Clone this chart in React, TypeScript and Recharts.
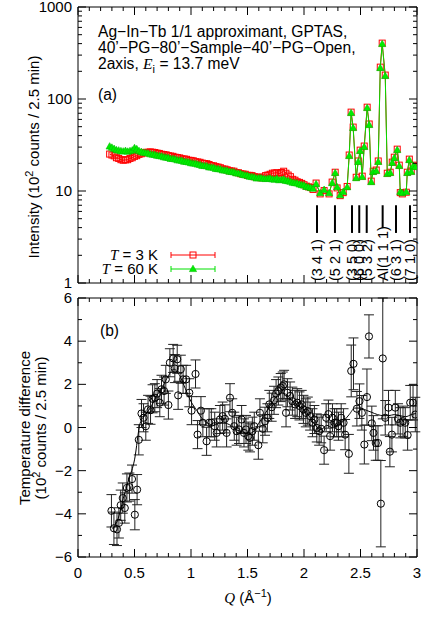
import React from 'react';
import {
  ComposedChart, Scatter, XAxis, YAxis, ErrorBar, ReferenceLine, Customized,
} from 'recharts';

const FONT = '"Liberation Sans", Arial, Helvetica, sans-serif';
const SERIF = '"Liberation Serif", "Times New Roman", serif';
const FS = 15;

// (a) intensity scan, dense part (Q in 1/Å, intensity in 10^2 counts / 2.5 min)
const qScan = [
  0.28, 0.30, 0.32, 0.34, 0.36, 0.38, 0.40, 0.42, 0.44, 0.46,
  0.48, 0.50, 0.52, 0.54, 0.56, 0.58, 0.60, 0.62, 0.64, 0.66,
  0.68, 0.70, 0.72, 0.74, 0.76, 0.78, 0.80, 0.82, 0.84, 0.86,
  0.88, 0.90, 0.92, 0.94, 0.96, 0.98, 1.00, 1.02, 1.04, 1.06,
  1.08, 1.10, 1.12, 1.14, 1.16, 1.18, 1.20, 1.22, 1.24, 1.26,
  1.28, 1.30, 1.32, 1.34, 1.36, 1.38, 1.40, 1.42, 1.44, 1.46,
  1.48, 1.50, 1.52, 1.54, 1.56, 1.58, 1.60, 1.62, 1.64, 1.66,
  1.68, 1.70, 1.72, 1.74, 1.76, 1.78, 1.80, 1.82, 1.84, 1.86,
  1.88, 1.90, 1.92, 1.94, 1.96, 1.98, 2.00, 2.02, 2.04, 2.06,
  2.08,
];
const i3KScan = [
  25.2, 24.6, 24.1, 23.0, 22.6, 21.9, 21.6, 21.8, 21.9, 22.6,
  23.0, 23.8, 24.2, 25.0, 25.4, 25.9, 26.3, 26.4, 26.6, 26.4,
  26.2, 25.8, 25.6, 25.1, 24.9, 24.7, 24.2, 24.0, 23.8, 23.3,
  23.1, 22.9, 22.4, 22.3, 22.1, 21.6, 21.5, 21.3, 20.8, 20.7,
  20.5, 20.1, 19.9, 19.8, 19.4, 18.9, 18.8, 18.4, 18.2, 17.9,
  17.4, 17.3, 17.0, 16.6, 16.5, 16.4, 15.9, 15.8, 15.4, 15.3,
  15.2, 14.8, 14.8, 14.7, 14.3, 14.2, 14.1, 13.9, 14.2, 14.7,
  14.9, 15.2, 15.6, 15.7, 15.8, 15.4, 15.9, 16.4, 15.6, 14.9,
  14.3, 13.4, 13.1, 12.6, 12.4, 12.1, 11.7, 11.3, 11.1, 10.9,
  10.4,
];
const i60KScan = [
  30.5, 29.6, 28.7, 27.8, 27.6, 27.1, 26.9, 27.3, 26.8, 27.2,
  27.6, 29.3, 28.5, 27.2, 26.6, 26.1, 25.9, 25.6, 25.1, 24.9,
  24.7, 24.2, 24.0, 23.8, 23.3, 23.1, 22.9, 22.4, 22.3, 22.1,
  21.6, 21.5, 21.3, 20.8, 20.7, 20.5, 20.1, 19.9, 19.8, 19.4,
  19.2, 18.8, 18.7, 18.6, 18.1, 18.0, 17.9, 17.4, 17.3, 17.2,
  16.8, 16.7, 16.6, 16.2, 16.1, 16.0, 15.6, 15.5, 15.4, 15.0,
  14.8, 14.7, 14.3, 14.2, 14.1, 13.7, 13.8, 13.8, 13.6, 13.5,
  13.6, 13.7, 13.4, 13.3, 13.6, 13.1, 13.2, 13.4, 12.9, 12.8,
  12.6, 12.3, 12.2, 12.1, 11.8, 11.6, 11.5, 11.1, 11.0, 10.8,
  10.6,
];

// (a) Bragg-peak region
const qPeak = [
  2.107, 2.143, 2.178, 2.222, 2.249, 2.276, 2.293, 2.320, 2.347, 2.382,
  2.400, 2.417, 2.435, 2.462, 2.480, 2.497, 2.515, 2.533, 2.559, 2.577,
  2.595, 2.612, 2.639, 2.657, 2.675, 2.692, 2.719, 2.737, 2.763, 2.781,
  2.799, 2.825, 2.843, 2.852, 2.870, 2.905, 2.914, 2.932, 2.949, 2.967,
  2.985,
];
const i3KPeak = [
  12.2, 9.3, 10.1, 9.3, 12.5, 16.0, 10.8, 8.9, 9.6, 11.2,
  24.6, 72.0, 49.5, 14.1, 21.2, 27.8, 14.5, 30.8, 81.5, 53.5,
  12.8, 16.4, 16.9, 21.2, 222, 405, 182, 15.6, 16.0, 20.6,
  23.3, 28.5, 19.1, 9.6, 9.3, 9.7, 16.0, 22.2, 16.5, 19.1,
  18.6,
];
const i60KPeak = [
  11.9, 9.5, 10.3, 9.5, 12.2, 15.7, 11.0, 9.0, 9.8, 11.0,
  24.0, 70.4, 48.4, 13.8, 20.7, 27.2, 14.2, 30.1, 79.8, 52.2,
  12.5, 16.1, 16.5, 20.7, 217, 396, 178, 15.3, 15.7, 20.2,
  22.8, 27.9, 18.7, 9.8, 9.5, 9.8, 15.7, 21.7, 16.1, 18.7,
  18.2,
];

// reflection markers
const hklQ = [2.115, 2.274, 2.425, 2.489, 2.555, 2.696, 2.814, 2.938];
const hklText = ['(3 4 1)', '(5 2 1)', '(3 5 0)', '(6 0 0)', '(5 3 2)', 'Al(1 1 1)', '(6 3 1)', '(7 1 0)'];
const MARK_TOP = 7.0;
const MARK_BOTTOM = 3.5;
const MARK_BOTTOM_AL = 3.95;

// (b) temperature difference
const qDiff = [
  0.296, 0.318, 0.345, 0.362, 0.378, 0.396, 0.414, 0.433, 0.455, 0.478,
  0.503, 0.523, 0.538, 0.562, 0.580, 0.600, 0.620, 0.642, 0.660, 0.680,
  0.700, 0.724, 0.739, 0.762, 0.777, 0.800, 0.813, 0.842, 0.857, 0.878,
  0.886, 0.910, 0.930, 0.957, 0.985, 1.005, 1.040, 1.058, 1.088, 1.105,
  1.138, 1.160, 1.180, 1.210, 1.227, 1.256, 1.280, 1.300, 1.315, 1.345,
  1.365, 1.383, 1.404, 1.425, 1.448, 1.469, 1.487, 1.507, 1.522, 1.543,
  1.560, 1.596, 1.610, 1.635, 1.655, 1.676, 1.693, 1.714, 1.735, 1.753,
  1.773, 1.794, 1.812, 1.824, 1.841, 1.853, 1.877, 1.897, 1.921, 1.940,
  1.960, 1.980, 1.995, 2.016, 2.034, 2.054, 2.075, 2.092, 2.113, 2.134,
  2.152, 2.178, 2.196, 2.216, 2.231, 2.252, 2.270, 2.290, 2.305, 2.329,
  2.350, 2.364, 2.397, 2.418, 2.438, 2.468, 2.491, 2.512, 2.534, 2.557,
  2.575, 2.600, 2.615, 2.635, 2.655, 2.680, 2.697, 2.719, 2.748, 2.760,
  2.778, 2.808, 2.832, 2.852, 2.876, 2.896, 2.917, 2.940, 2.965, 2.985,
];
const dDiff = [
  -3.86, -4.67, -4.72, -4.42, -3.60, -3.27, -3.73, -2.80, -2.76, -2.39,
  -4.04, -2.88, -0.57, 0.65, 0.45, 0.06, 0.84, 0.80, 1.33, 1.38,
  1.57, 1.15, 1.77, 1.69, 2.23, 1.04, 3.00, 3.20, 2.73, 3.16,
  1.49, 2.70, 2.23, 2.23, 1.61, 0.78, 2.48, -0.33, 0.78, 0.22,
  -0.64, 0.22, 0.22, 0.06, -0.25, 0.37, 0.53, 0.40, -0.25, 1.38,
  0.68, 0.06, -0.17, -0.09, 0.37, -0.25, -0.09, -0.40, -0.48, -0.17,
  0.06, -0.82, 0.68, -0.06, 0.29, 0.45, 1.07, 0.94, 1.26, 1.57,
  1.69, 1.85, 1.92, 2.00, 0.68, 1.61, 1.46, 1.22, 1.07, 1.15,
  1.00, 1.07, 0.84, 0.68, 0.76, 0.53, 0.22, 0.37, -0.02, -0.17,
  -0.06, -1.05, 0.45, 0.62, -0.40, 0.45, 0.22, 0.22, 0.06, 0.45,
  0.22, -0.33, -1.22, 2.62, 2.95, 0.87, 1.22, 0.68, -0.79, 1.41,
  4.22, 0.19, -0.25, -0.72, -0.72, -3.53, 3.20, 0.45, 0.92, -1.12,
  -0.33, 0.92, 0.40, 0.22, 0.29, 0.22, -0.35, 1.15, 1.15, 0.60,
];
const eDiff = [
  0.75, 0.75, 0.75, 0.70, 0.70, 0.70, 0.70, 0.65, 0.65, 0.65,
  0.70, 0.70, 0.70, 0.65, 0.65, 0.65, 0.65, 0.65, 0.65, 0.65,
  0.65, 0.65, 0.65, 0.65, 0.65, 0.65, 0.65, 0.65, 0.65, 0.65,
  0.65, 0.65, 0.65, 0.65, 0.65, 0.65, 0.65, 0.65, 0.65, 0.65,
  0.65, 0.65, 0.65, 0.65, 0.65, 0.65, 0.65, 0.65, 0.65, 0.65,
  0.65, 0.65, 0.65, 0.65, 0.65, 0.65, 0.65, 0.65, 0.65, 0.65,
  0.65, 0.65, 0.65, 0.65, 0.65, 0.65, 0.65, 0.65, 0.65, 0.65,
  0.65, 0.65, 0.65, 0.65, 0.65, 0.65, 0.65, 0.65, 0.65, 0.65,
  0.65, 0.65, 0.65, 0.65, 0.65, 0.65, 0.65, 0.65, 0.65, 0.65,
  0.65, 0.65, 0.65, 0.65, 0.65, 0.65, 0.65, 0.65, 0.65, 0.65,
  0.65, 0.70, 0.90, 1.20, 1.20, 0.80, 0.80, 0.80, 0.90, 1.30,
  1.00, 0.80, 0.80, 0.80, 0.80, 2.00, 2.80, 0.80, 0.80, 0.70,
  0.80, 0.80, 0.70, 0.70, 0.70, 0.70, 0.70, 0.80, 0.80, 0.80,
];
const qSmooth = [
  0.30, 0.35, 0.40, 0.45, 0.50, 0.55, 0.60, 0.65, 0.70, 0.75,
  0.80, 0.85, 0.90, 0.95, 1.00, 1.05, 1.10, 1.15, 1.20, 1.25,
  1.30, 1.35, 1.40, 1.45, 1.50, 1.55, 1.60, 1.65, 1.70, 1.75,
  1.80, 1.85, 1.90, 1.95, 2.00, 2.05, 2.10, 2.15, 2.20, 2.25,
  2.30, 2.35, 2.40, 2.45, 2.50, 2.55, 2.60, 2.65, 2.70, 2.75,
  2.80, 2.85, 2.90, 2.95, 2.99,
];
const dSmooth = [
  -4.7, -4.3, -3.3, -2.4, -1.5, 0.2, 0.6, 1.0, 1.5, 1.9,
  2.4, 2.7, 2.4, 1.8, 1.2, 0.8, 0.4, 0.2, 0.1, 0.2,
  0.2, 0.1, -0.1, -0.2, -0.3, -0.2, 0.2, 0.6, 1.0, 1.4,
  1.6, 1.5, 1.2, 1.0, 0.8, 0.5, 0.1, -0.1, 0.1, 0.0,
  0.1, 0.3, 0.6, 0.9, 0.9, 0.8, 0.7, 0.6, 0.55, 0.55,
  0.6, 0.55, 0.5, 0.6, 0.65,
];

const xTicks = [
  0, 0.1, 0.2, 0.3, 0.4, 0.5, 0.6, 0.7, 0.8, 0.9, 1, 1.1, 1.2, 1.3, 1.4, 1.5,
  1.6, 1.7, 1.8, 1.9, 2, 2.1, 2.2, 2.3, 2.4, 2.5, 2.6, 2.7, 2.8, 2.9, 3,
];
const logTicks = [
  1, 2, 3, 4, 5, 6, 7, 8, 9, 10, 20, 30, 40, 50, 60, 70, 80, 90,
  100, 200, 300, 400, 500, 600, 700, 800, 900, 1000,
];
const logMajor = [1, 10, 100, 1000];
const diffTicks = [-6, -5, -4, -3, -2, -1, 0, 1, 2, 3, 4, 5, 6];

const data3K = [...qScan, ...qPeak].map((q, i) => ({ q, v: [...i3KScan, ...i3KPeak][i] }));
const data60K = [...qScan, ...qPeak].map((q, i) => ({ q, v: [...i60KScan, ...i60KPeak][i] }));
const diffData = qDiff.map((q, i) => ({ q, v: dDiff[i], err: eDiff[i] }));
const smoothData = qSmooth.map((q, i) => ({ q, v: dSmooth[i] }));

const isHalf = (v: number) => Math.abs(v * 2 - Math.round(v * 2)) < 1e-6;
const isDecade = (v: number) => logMajor.includes(v);
const isEven = (v: number) => Math.round(v) % 2 === 0;
const numLabel = (v: number) => String(v).replace('-', '\u2212');

// inward gnuplot-style ticks; labels only on the left and bottom
function tickRenderer(side: string, isMajor: (v: number) => boolean, fmt?: (v: number) => string) {
  return (props: any) => {
    const { x, y, payload } = props;
    const v = payload.value;
    const major = isMajor(v);
    const len = major ? 8 : 4;
    const dx = side === 'left' ? len : side === 'right' ? -len : 0;
    const dy = side === 'top' ? len : side === 'bottom' ? -len : 0;
    let label = null;
    if (fmt && major) {
      label = side === 'left'
        ? <text x={x - 6} y={y + 5} textAnchor="end" fontSize={FS} fontFamily={FONT} fill="#000">{fmt(v)}</text>
        : <text x={x} y={y + 21} textAnchor="middle" fontSize={FS} fontFamily={FONT} fill="#000">{fmt(v)}</text>;
    }
    return (
      <g>
        <line x1={x} y1={y} x2={x + dx} y2={y + dy} stroke="#000" strokeWidth={1} />
        {label}
      </g>
    );
  };
}

const axisLine = { stroke: '#000', strokeWidth: 1 };

const Square = (p: any) => (
  <rect x={p.cx - 3} y={p.cy - 3} width={6} height={6} fill="none" stroke="#ff0000" strokeWidth={1} />
);
const Triangle = (p: any) => (
  <path d={`M${p.cx},${p.cy - 3.8}L${p.cx + 3.6},${p.cy + 2.6}L${p.cx - 3.6},${p.cy + 2.6}Z`} fill="#00ee00" stroke="#00c000" strokeWidth={0.6} />
);
const Circle = (p: any) => (
  <circle cx={p.cx} cy={p.cy} r={3.6} fill="none" stroke="#000" strokeWidth={1} />
);
const NoDot = () => <g />;

const TopText = () => (
  <g fontFamily={FONT} fontSize={FS} fill="#000">
    <g fontSize={15.6}>
      <text x={98} y={37}>Ag−In−Tb 1/1 approximant, GPTAS,</text>
      <text x={98} y={53}>40’−PG−80’−Sample−40’−PG−Open,</text>
      <text x={98} y={69}>
        2axis, <tspan fontFamily={SERIF} fontStyle="italic">E</tspan>
        <tspan dy={4} fontSize={11}>i</tspan>
        <tspan dy={-4}> = 13.7 meV</tspan>
      </text>
      <text x={98} y={100}>(a)</text>
    </g>
    <text transform="translate(39,157) rotate(-90)" textAnchor="middle">
      Intensity (10<tspan dy={-6} fontSize={11}>2</tspan><tspan dy={6}> counts / 2.5 min)</tspan>
    </text>
    <text x={158} y={260} textAnchor="end">
      <tspan fontFamily={SERIF} fontStyle="italic">T</tspan> = 3 K
    </text>
    <line x1={171} y1={255} x2={215} y2={255} stroke="#ff0000" />
    <line x1={171} y1={252} x2={171} y2={258} stroke="#ff0000" />
    <line x1={215} y1={252} x2={215} y2={258} stroke="#ff0000" />
    <Square cx={193} cy={255} />
    <text x={158} y={274} textAnchor="end">
      <tspan fontFamily={SERIF} fontStyle="italic">T</tspan> = 60 K
    </text>
    <line x1={171} y1={269} x2={215} y2={269} stroke="#00e000" />
    <line x1={171} y1={266} x2={171} y2={272} stroke="#00e000" />
    <line x1={215} y1={266} x2={215} y2={272} stroke="#00e000" />
    <Triangle cx={193} cy={269} />
  </g>
);

const BottomText = () => (
  <g fontFamily={FONT} fontSize={FS} fill="#000">
    <text x={100} y={46} fontSize={15.6}>(b)</text>
    <text transform="translate(30,138) rotate(-90)" textAnchor="middle">Temperature difference</text>
    <text transform="translate(46,138) rotate(-90)" textAnchor="middle">
      (10<tspan dy={-6} fontSize={11}>2</tspan><tspan dy={6}> counts / 2.5 min)</tspan>
    </text>
    <text x={248} y={313} textAnchor="middle">
      <tspan fontFamily={SERIF} fontStyle="italic">Q</tspan> (Å<tspan dy={-6} fontSize={11}>−1</tspan><tspan dy={6}>)</tspan>
    </text>
  </g>
);

const hklLabel = (text: string) => (p: any) => {
  const vb = p.viewBox || {};
  const x = vb.x ?? p.x ?? 0;
  return (
    <text transform={`translate(${x + 5},281) rotate(-90)`} textAnchor="start" fontSize={14.5} fontFamily={FONT} fill="#000">
      {text}
    </text>
  );
};

export default function App() {
  return (
    <div style={{ position: 'absolute', left: 0, top: 0, width: 436, height: 623, background: '#fff', fontFamily: FONT }}>
      <ComposedChart width={436} height={290} margin={{ top: 0, right: 0, bottom: 0, left: 0 }}>
        <XAxis xAxisId="b" dataKey="q" type="number" domain={[0, 3]} ticks={xTicks} interval={0} height={7}
          allowDataOverflow tickLine={false} tickSize={0} tickMargin={0} axisLine={axisLine}
          tick={tickRenderer('bottom', isHalf)} />
        <XAxis xAxisId="t" orientation="top" dataKey="q" type="number" domain={[0, 3]} ticks={xTicks} interval={0} height={7}
          allowDataOverflow tickLine={false} tickSize={0} tickMargin={0} axisLine={axisLine}
          tick={tickRenderer('top', isHalf)} />
        <YAxis yAxisId="l" dataKey="v" scale="log" type="number" domain={[1, 1000]} ticks={logTicks} interval={0} width={78}
          allowDataOverflow tickLine={false} tickSize={0} tickMargin={0} axisLine={axisLine}
          tick={tickRenderer('left', isDecade, numLabel)} />
        <YAxis yAxisId="r" orientation="right" dataKey="v" scale="log" type="number" domain={[1, 1000]} ticks={logTicks} interval={0} width={19}
          allowDataOverflow tickLine={false} tickSize={0} tickMargin={0} axisLine={axisLine}
          tick={tickRenderer('right', isDecade)} />
        {hklQ.map((q, i) => (
          <ReferenceLine key={hklText[i]} xAxisId="b" yAxisId="l"
            segment={[{ x: q, y: MARK_TOP }, { x: q, y: hklText[i].startsWith('Al') ? MARK_BOTTOM_AL : MARK_BOTTOM }]}
            stroke="#000" strokeWidth={2} ifOverflow="visible" label={hklLabel(hklText[i])} />
        ))}
        <Scatter xAxisId="b" yAxisId="l" name="T = 3 K" data={data3K} shape={Square}
          line={{ stroke: '#ff0000', strokeWidth: 1 }} lineType="joint" isAnimationActive={false} />
        <Scatter xAxisId="b" yAxisId="l" name="T = 60 K" data={data60K} shape={Triangle}
          line={{ stroke: '#00e000', strokeWidth: 1 }} lineType="joint" isAnimationActive={false} />
        <Customized component={TopText} />
      </ComposedChart>
      <ComposedChart width={436} height={333} margin={{ top: 0, right: 0, bottom: 0, left: 0 }}>
        <XAxis xAxisId="b" dataKey="q" type="number" domain={[0, 3]} ticks={xTicks} interval={0} height={66}
          allowDataOverflow tickLine={false} tickSize={0} tickMargin={0} axisLine={axisLine}
          tick={tickRenderer('bottom', isHalf, numLabel)} />
        <XAxis xAxisId="t" orientation="top" dataKey="q" type="number" domain={[0, 3]} ticks={xTicks} interval={0} height={8}
          allowDataOverflow tickLine={false} tickSize={0} tickMargin={0} axisLine={axisLine}
          tick={tickRenderer('top', isHalf)} />
        <YAxis yAxisId="l" dataKey="v" type="number" domain={[-6, 6]} ticks={diffTicks} interval={0} width={78}
          allowDataOverflow tickLine={false} tickSize={0} tickMargin={0} axisLine={axisLine}
          tick={tickRenderer('left', isEven, numLabel)} />
        <YAxis yAxisId="r" orientation="right" dataKey="v" type="number" domain={[-6, 6]} ticks={diffTicks} interval={0} width={19}
          allowDataOverflow tickLine={false} tickSize={0} tickMargin={0} axisLine={axisLine}
          tick={tickRenderer('right', isEven)} />
        <Scatter xAxisId="b" yAxisId="l" name="smoothed" data={smoothData} shape={NoDot}
          line={{ stroke: '#000', strokeWidth: 1 }} lineType="joint" lineJointType="monotoneX" isAnimationActive={false} />
        <Scatter xAxisId="b" yAxisId="l" name="difference" data={diffData} shape={Circle} isAnimationActive={false}>
          <ErrorBar dataKey="err" direction="y" width={5} stroke="#222" strokeWidth={1} isAnimationActive={false} />
        </Scatter>
        <Customized component={BottomText} />
      </ComposedChart>
    </div>
  );
}
